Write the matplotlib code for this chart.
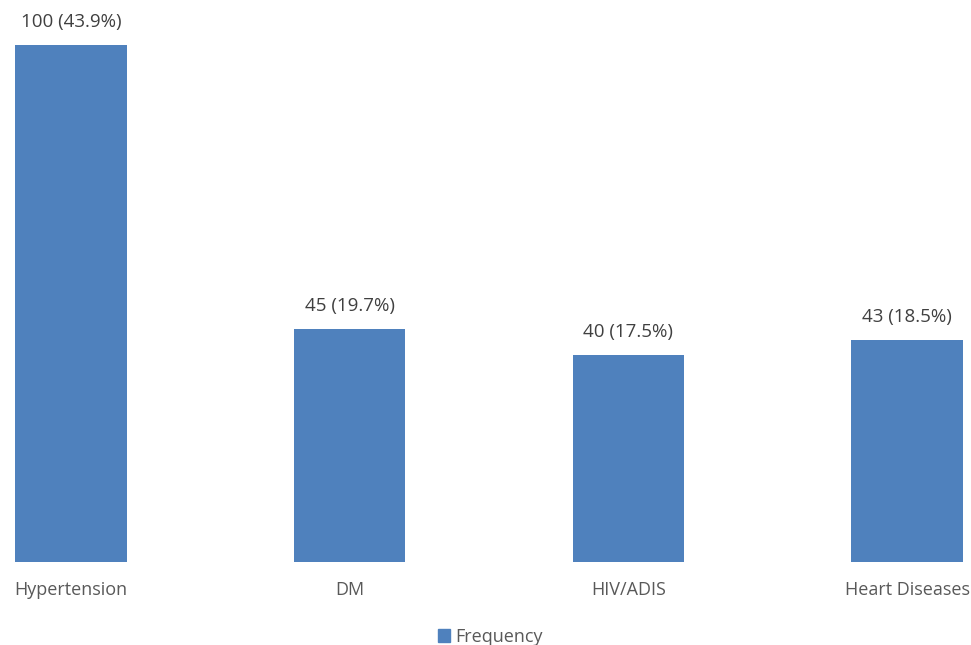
import matplotlib.pyplot as plt
from matplotlib.patches import Patch

plt.rcParams['font.family'] = ['Open Sans', 'DejaVu Sans']

# 数据
categories = ['Hypertension', 'DM', 'HIV/ADIS', 'Heart Diseases']
values = [100, 45, 40, 43]
percents = [43.9, 19.7, 17.5, 18.5]

color = '#4f81bd'

fig = plt.figure(figsize=(9.71, 6.45), dpi=100)
ax = fig.add_axes([0, 83 / 645, 1, 562 / 645])

x = range(len(categories))
bars = ax.bar(x, values, width=0.4, color=color)

# 数值标签
for xi, v, p in zip(x, values, percents):
    ax.annotate(f'{v} ({p}%)', (xi, v), xytext=(0, 10), textcoords='offset points',
                ha='center', va='bottom', fontsize=13.5, color='#404040')

ax.set_xlim(-71 / 278.67, 900 / 278.67)
ax.set_ylim(0, 562 / 5.17)
ax.set_xticks(list(x))
ax.set_xticklabels(categories, fontsize=13, color='#595959')
ax.tick_params(axis='x', length=0, pad=14)
ax.set_yticks([])
for s in ax.spines.values():
    s.set_visible(False)

fig.legend(handles=[Patch(color=color, label='Frequency')], loc='center',
           bbox_to_anchor=(0.505, 1 - 637 / 645), frameon=False, fontsize=13,
           handlelength=0.7, handleheight=0.7, handletextpad=0.3,
           labelcolor='#595959')

plt.savefig('out.png')
